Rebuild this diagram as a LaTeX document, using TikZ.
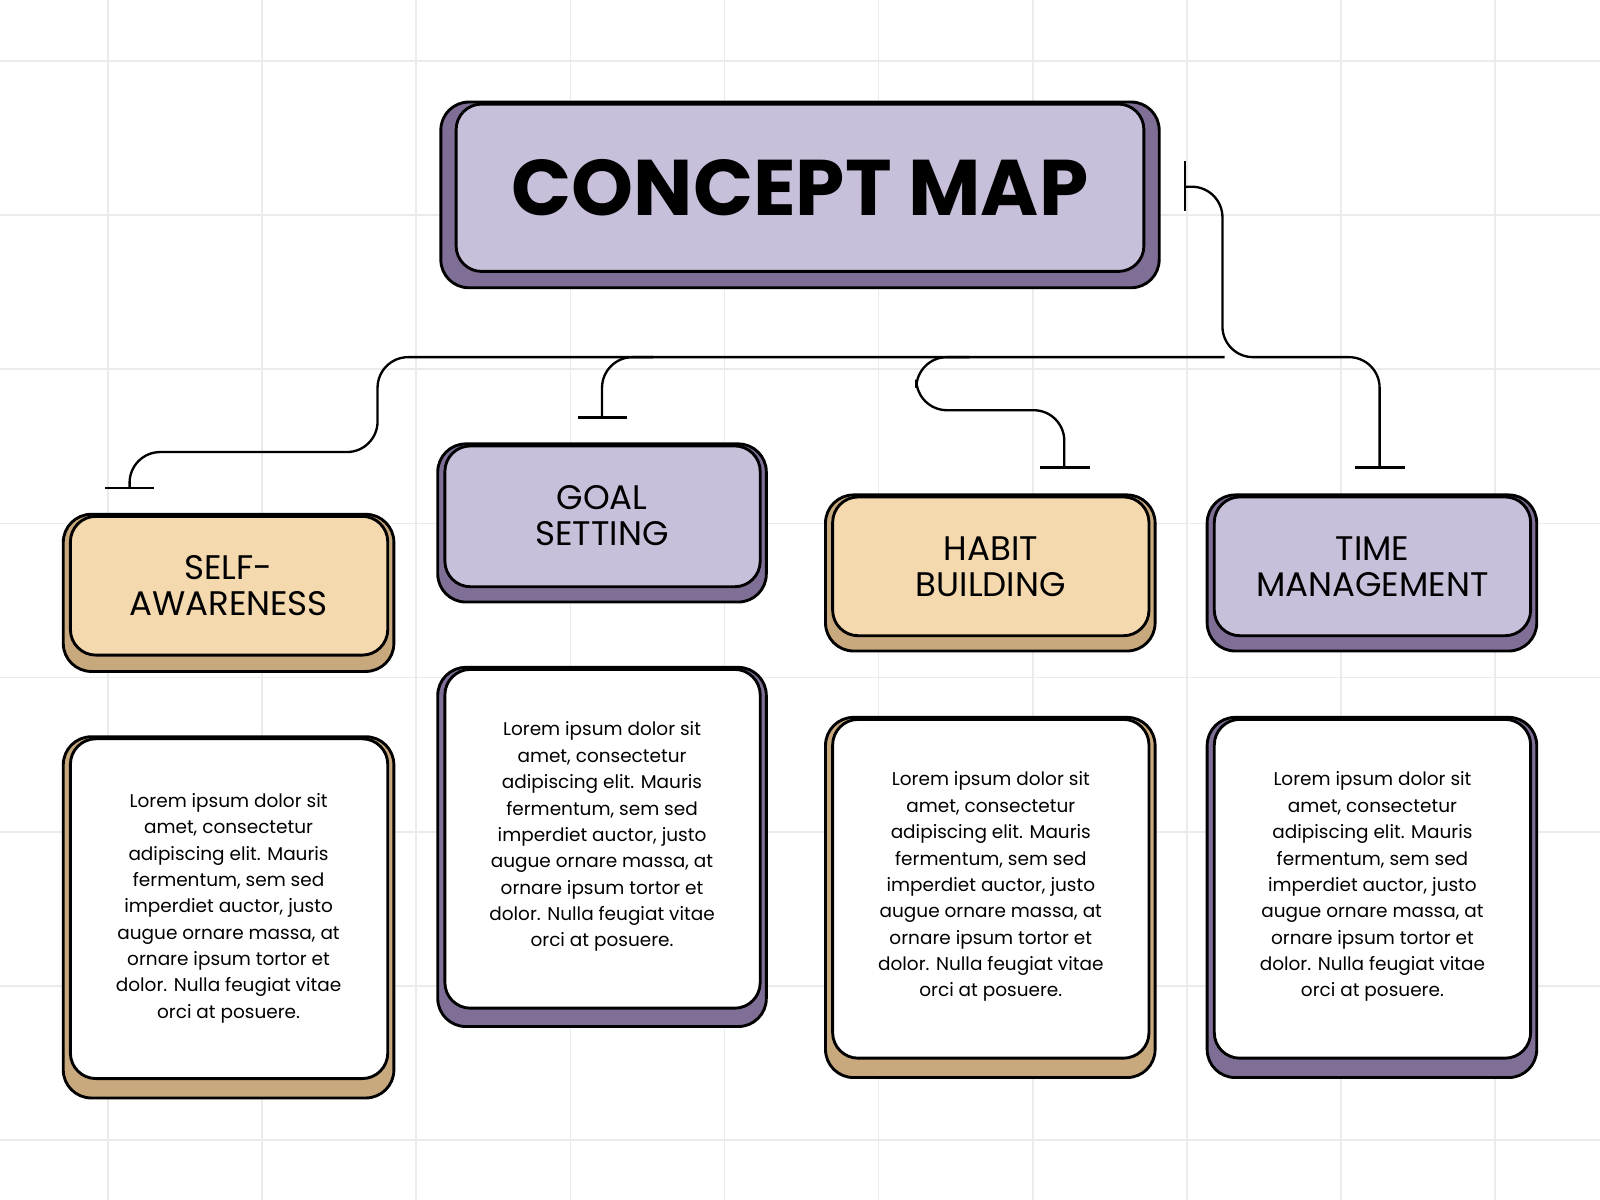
\documentclass[tikz,border=0pt]{standalone}
\usepackage{fontspec}
\setmainfont{Poppins}
\begin{document}
\begin{tikzpicture}[x=0.02cm,y=-0.02cm,
  back/.style={draw=black,line width=1.6pt,rounded corners=0.55cm},
  front/.style={draw=black,line width=1.6pt,rounded corners=0.5cm},
  con/.style={draw=black,line width=1.3pt,rounded corners=0.6cm},
  lbl/.style={align=center,font=\fontsize{19}{20}\selectfont},
  body/.style={align=center,font=\fontsize{10.3}{14.7}\selectfont}]
\definecolor{pd}{HTML}{7F6F96}\definecolor{pl}{HTML}{C8BFDB}
\definecolor{td}{HTML}{C8A97E}\definecolor{tl}{HTML}{F5D9AE}
\definecolor{gr}{HTML}{EBEBEB}
\fill[white] (0,0) rectangle (1568,1176);
\useasboundingbox (0,0) rectangle (1568,1176);
\foreach \x in {106,257,408,559,710,861,1012,1163,1314,1465} \draw[gr,line width=1pt] (\x,0)--(\x,1176);
\foreach \y in {60,211,362,513,664,815,966,1117} \draw[gr,line width=1pt] (0,\y)--(1568,\y);
% connectors
\coordinate (t1) at (1161,183);
\draw[con] (t1) -- (1198,183) -- (1198,350) -- (1352,350) -- (1352,458);
\draw[line width=1.3pt] (1161,158)--(1161,207) (1328,458)--(1377,458);
\draw[con] (1200,350) -- (370,350) -- (370,443) -- (127,443) -- (127,478);
\draw[line width=1.3pt] (103,478)--(151,478);
\draw[con] (640,350) -- (590,350) -- (590,409);
\draw[line width=1.3pt] (566,409)--(614,409);
\draw[con] (950,350) -- (898,350) -- (898,402) -- (1043,402) -- (1043,458);
\draw[line width=1.3pt] (1019,458)--(1068,458);
% title
\draw[back,fill=pd] (432,100) rectangle (1136,282);
\draw[front,fill=pl] (447,102) rectangle (1121,266);
\node[font=\fontsize{44}{46}\selectfont\bfseries] (title) at (784,184) {CONCEPT MAP};
% boxes
\newcommand\cbox[8]{%
 \draw[back,fill=#5] (#1,#2) rectangle (#3,#4);
 \draw[front,fill=#6] (#1+7,#2+2) rectangle (#3-6,#4-#7);}
\cbox{62}{504}{386}{658}{td}{tl}{16}{}
\node[lbl] (sa) at (224,574) {SELF-\\AWARENESS};
\cbox{429}{435}{751}{590}{pd}{pl}{15}{}
\node[lbl] (gs) at (590,505) {GOAL\\SETTING};
\cbox{809}{485}{1132}{638}{td}{tl}{15}{}
\node[lbl] (hb) at (971,555) {HABIT\\BUILDING};
\cbox{1183}{485}{1506}{638}{pd}{pl}{15}{}
\node[lbl] (tm) at (1345,555) {TIME\\MANAGEMENT};
\newcommand\lorem{Lorem ipsum dolor sit\\amet, consectetur\\adipiscing elit. Mauris\\fermentum, sem sed\\imperdiet auctor, justo\\augue ornare massa, at\\ornare ipsum tortor et\\dolor. Nulla feugiat vitae\\orci at posuere.}
\cbox{62}{722}{386}{1076}{td}{white}{19}{}
\node[body] (b1) at (224,890) {\lorem};
\cbox{429}{654}{751}{1006}{pd}{white}{18}{}
\node[body] (b2) at (590,820) {\lorem};
\cbox{809}{703}{1132}{1056}{td}{white}{19}{}
\node[body] (b3) at (971,869) {\lorem};
\cbox{1183}{703}{1506}{1056}{pd}{white}{19}{}
\node[body] (b4) at (1345,869) {\lorem};
\end{tikzpicture}
\end{document}
